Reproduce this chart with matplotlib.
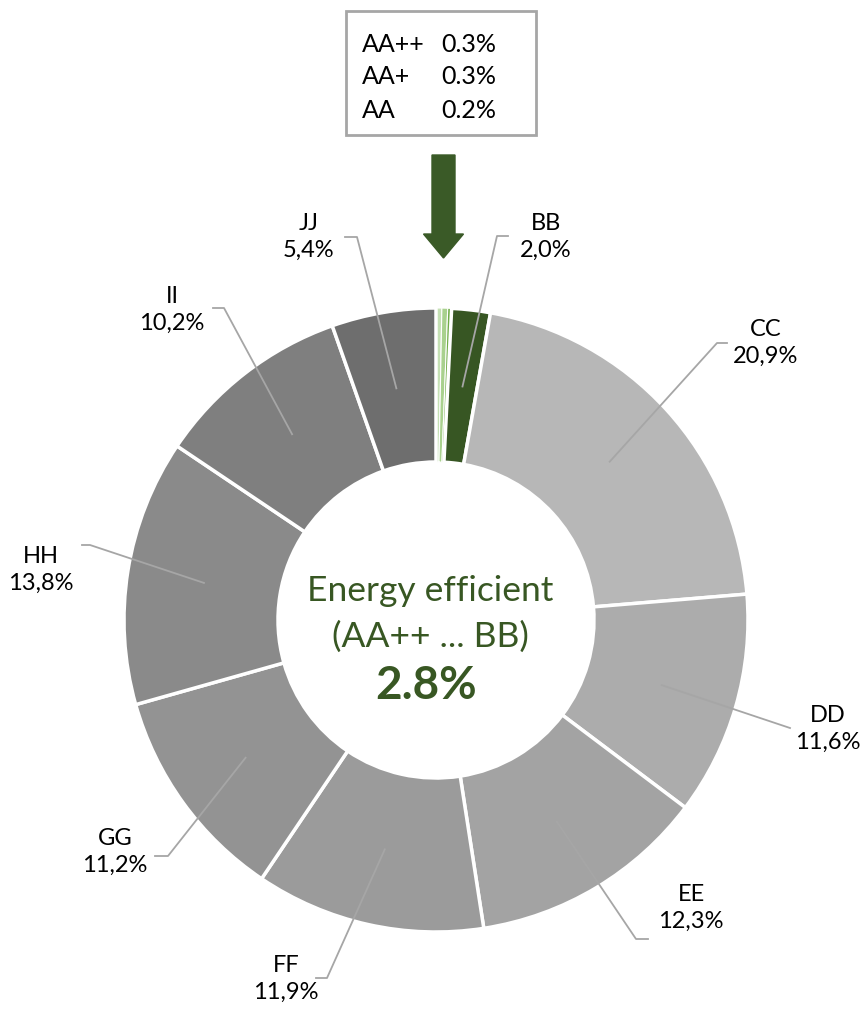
import matplotlib
matplotlib.use("Agg")
import matplotlib.pyplot as plt
import numpy as np
from matplotlib.patches import FancyArrow, Rectangle

categories = ["AA++", "AA+", "AA", "BB", "CC", "DD", "EE", "FF", "GG", "HH", "II", "JJ"]
values = [0.3, 0.3, 0.2, 2.0, 20.9, 11.6, 12.3, 11.9, 11.2, 13.8, 10.2, 5.4]
value_labels = ["0.3%", "0.3%", "0.2%", "2,0%", "20,9%", "11,6%", "12,3%", "11,9%", "11,2%", "13,8%", "10,2%", "5,4%"]
colors = ["#c5e0b4", "#a9d18e", "#70ad47", "#375623", "#b7b7b7", "#acacac", "#a3a3a3",
          "#9b9b9b", "#939393", "#8a8a8a", "#7f7f7f", "#6e6e6e"]
center_title = ["Energy efficient", "(AA++ ... BB)"]
center_value = "2.8%"

W, H = 868, 1010
fig = plt.figure(figsize=(W / 100, H / 100), dpi=100)
ax = fig.add_axes([0, 0, 1, 1])

def py(y):
    return H - y

cx, cy, R, ring = 436, py(620), 312, 154
wedges, _ = ax.pie(values, colors=colors, startangle=90, counterclock=False,
                   radius=R, center=(cx, cy), frame=True,
                   wedgeprops=dict(width=ring, edgecolor="white", linewidth=2.5))
for w in wedges[:3]:
    w.set_linewidth(0.8)
ax.set_xlim(0, W)
ax.set_ylim(0, H)
ax.axis("off")

font = "Lato"
green = "#385723"
line_col = "#a6a6a6"

label_pos = {
    "BB": (546, 237), "CC": (766, 343), "DD": (828, 729), "EE": (691, 908),
    "FF": (286, 979), "GG": (115, 852), "HH": (41, 570), "II": (172, 310), "JJ": (309, 237),
}
elbow = {
    "BB": (497, 236, 508), "CC": (717, 343, 727), "DD": (790, 728, 790), "EE": (636, 939, 648),
    "FF": (327, 978, 316), "GG": (168, 856, 155), "HH": (90, 545, 82), "II": (224, 308, 213),
    "JJ": (357, 237, 345),
}
for i, (cat, w) in enumerate(zip(categories, wedges)):
    if cat not in label_pos:
        continue
    ang = np.deg2rad((w.theta1 + w.theta2) / 2)
    rm = R - ring / 2
    ax0, ay0 = cx + rm * np.cos(ang), cy + rm * np.sin(ang)
    ex, ey, hx = elbow[cat]
    ax.plot([ax0, ex, hx], [ay0, py(ey), py(ey)], color=line_col, lw=1.3, zorder=3)
    lx, ly = label_pos[cat]
    ax.text(lx, py(ly), f"{cat}\n{value_labels[i]}", ha="center", va="center",
            fontsize=17, family=font, linespacing=1.35, color="#000000")

ax.text(430, py(591), center_title[0], ha="center", va="center", fontsize=25.5, family=font, color=green)
ax.text(430, py(637), center_title[1], ha="center", va="center", fontsize=25.5, family=font, color=green)
ax.text(426, py(686), center_value, ha="center", va="center", fontsize=33, family=font,
        fontweight="bold", color=green)

ax.add_patch(Rectangle((346, py(135)), 190, 124, facecolor="white", edgecolor=line_col, lw=2))
for k in range(3):
    yy = py(44 + k * 33)
    ax.text(362, yy, categories[k], ha="left", va="center", fontsize=18, family=font)
    ax.text(441, yy, value_labels[k], ha="left", va="center", fontsize=18, family=font)

ax.add_patch(FancyArrow(443.5, py(155), 0, -103, width=23, head_width=40, head_length=24,
                        length_includes_head=True, color="#3a5a27"))

fig.savefig("out.png", dpi=100)
